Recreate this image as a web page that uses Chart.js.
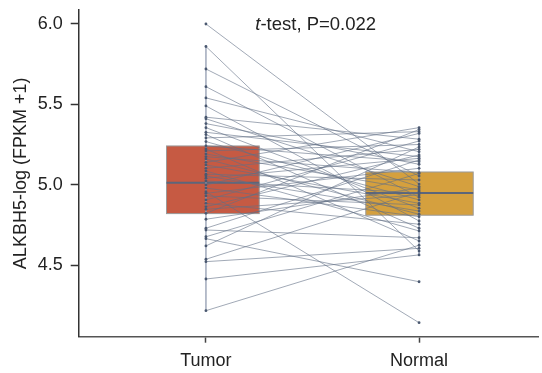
<!DOCTYPE html>
<html>
<head>
<meta charset="utf-8">
<script src="https://cdn.jsdelivr.net/npm/chart.js@4.4.1/dist/chart.umd.min.js"></script>
<style>
  html, body { margin: 0; padding: 0; background: #fff; }
</style>
</head>
<body>
<canvas id="grafico" width="542" height="373"></canvas>
<script>
const grupos = ['Tumor', 'Normal'];

// pares tumor -> normal (mesmo paciente)
const tumor = [6.00, 5.86, 5.72, 5.61, 5.54, 5.49, 5.42, 5.41, 5.38, 5.355, 5.326, 5.312,
  5.291, 5.268, 5.241, 5.222, 5.210, 5.191, 5.174, 5.160, 5.139, 5.123, 5.102, 5.085,
  5.065, 5.054, 5.040, 5.023, 4.998, 4.979, 4.956, 4.946, 4.930, 4.905, 4.884, 4.863,
  4.847, 4.822, 4.785, 4.729, 4.718, 4.676, 4.664, 4.619, 4.536, 4.521, 4.413, 4.216];
const normal = [5.004, 4.587, 5.054, 4.922, 5.205, 4.774, 5.283, 4.988, 5.127, 4.853, 5.174, 4.729,
  5.330, 4.905, 5.143, 4.650, 5.250, 4.967, 5.075, 4.816, 5.355, 4.884, 5.220, 4.712,
  5.029, 4.836, 5.164, 4.948, 5.319, 4.801, 4.141, 5.102, 4.874, 5.272, 4.754, 5.185,
  4.936, 5.343, 4.979, 5.154, 4.670, 5.070, 4.396, 5.235, 4.956, 4.604, 4.563, 4.623];

// q1, mediana, q3
const caixaTumor = [4.820, 5.012, 5.241];
const caixaNormal = [4.810, 4.948, 5.079];
// bigodes (min, max)
const bigodeTumor = [4.216, 5.860];
const bigodeNormal = [4.563, 5.355];

const ticksY = [4.5, 5.0, 5.5, 6.0];
const textoP = '-test, P=0.022';

const fonte = "'Liberation Sans', Arial, sans-serif";

let datasets = [];
for (let i = 0; i < tumor.length; i++) {
  datasets.push({
    type: 'line',
    data: [{ x: 1, y: tumor[i] }, { x: 2, y: normal[i] }],
    borderColor: 'rgba(98,110,132,0.75)',
    borderWidth: 0.8,
    pointRadius: 1.4,
    pointBackgroundColor: '#4a5870',
    pointBorderWidth: 0
  });
}

// caixas + bigodes desenhados antes das linhas
const pluginCaixas = {
  id: 'caixas',
  beforeDatasetsDraw(chart) {
    const ctx = chart.ctx;
    const sx = chart.scales.x;
    const sy = chart.scales.y;
    const caixas = [
      { pos: 1, esq: -0.185, dir: 0.25, q: caixaTumor, b: bigodeTumor, cor: '#c65a43' },
      { pos: 2, esq: -0.25, dir: 0.254, q: caixaNormal, b: bigodeNormal, cor: '#d5a03e' }
    ];
    ctx.save();
    caixas.forEach(function (c) {
      const x0 = sx.getPixelForValue(c.pos + c.esq);
      const x1 = sx.getPixelForValue(c.pos + c.dir);
      const yq1 = sy.getPixelForValue(c.q[0]);
      const ymed = sy.getPixelForValue(c.q[1]);
      const yq3 = sy.getPixelForValue(c.q[2]);
      ctx.fillStyle = c.cor;
      ctx.fillRect(x0, yq3, x1 - x0, yq1 - yq3);
      ctx.strokeStyle = '#9a9a9a';
      ctx.lineWidth = 1;
      ctx.strokeRect(x0, yq3, x1 - x0, yq1 - yq3);
      ctx.strokeStyle = '#5c667a';
      ctx.lineWidth = 2;
      ctx.beginPath();
      ctx.moveTo(x0, ymed);
      ctx.lineTo(x1, ymed);
      ctx.stroke();
      // bigode
      const xc = sx.getPixelForValue(c.pos);
      ctx.strokeStyle = 'rgba(150,160,180,0.85)';
      ctx.lineWidth = 1.6;
      ctx.beginPath();
      ctx.moveTo(xc, sy.getPixelForValue(c.b[0]));
      ctx.lineTo(xc, sy.getPixelForValue(c.b[1]));
      ctx.stroke();
    });
    ctx.restore();
  },
  afterDraw(chart) {
    const ctx = chart.ctx;
    const xc = chart.scales.x.getPixelForValue(1.515);
    const y = chart.chartArea.top + 20;
    ctx.save();
    ctx.fillStyle = '#222';
    ctx.textBaseline = 'alphabetic';
    ctx.font = 'italic 18.5px ' + fonte;
    const wt = ctx.measureText('t').width;
    ctx.font = '18.5px ' + fonte;
    const wr = ctx.measureText(textoP).width;
    const x0 = xc - (wt + wr) / 2;
    ctx.font = 'italic 18.5px ' + fonte;
    ctx.fillText('t', x0, y);
    ctx.font = '18.5px ' + fonte;
    ctx.fillText(textoP, x0 + wt, y);
    ctx.restore();
  }
};

const config = {
  type: 'line',
  data: { datasets: datasets },
  options: {
    responsive: false,
    animation: false,
    devicePixelRatio: 1,
    layout: { padding: { top: 10, right: 0, left: 0, bottom: 0 } },
    plugins: {
      legend: { display: false },
      tooltip: { enabled: false }
    },
    scales: {
      x: {
        type: 'linear',
        min: 0.403,
        max: 2.558,
        afterBuildTicks: function (s) { s.ticks = [{ value: 1 }, { value: 2 }]; },
        afterFit: function (s) { s.height = 36.3; s.paddingLeft = 0; s.paddingRight = 0; },
        ticks: {
          callback: function (v) { return grupos[v - 1]; },
          font: { size: 18, family: fonte },
          color: '#222',
          padding: 8,
          maxRotation: 0
        },
        grid: { drawOnChartArea: false, drawTicks: true, tickLength: 6, color: '#444', tickWidth: 1.5 },
        border: { color: '#555', width: 1.5 }
      },
      y: {
        min: 4.054,
        max: 6.087,
        afterBuildTicks: function (s) { s.ticks = ticksY.map(v => ({ value: v })); },
        afterFit: function (s) { s.width = 78.7; s.paddingTop = 0; s.paddingBottom = 0; },
        ticks: {
          callback: function (v) { return v.toFixed(1); },
          font: { size: 18, family: fonte },
          color: '#222',
          padding: 8
        },
        grid: { drawOnChartArea: false, drawTicks: true, tickLength: 8, color: '#333', tickWidth: 1.5 },
        border: { color: '#333', width: 1.5 },
        title: {
          display: true,
          text: 'ALKBH5-log (FPKM +1)',
          font: { size: 18, family: fonte },
          color: '#222',
          padding: { top: 10, bottom: 0 }
        }
      }
    }
  },
  plugins: [pluginCaixas]
};

let meuGrafico = new Chart(document.getElementById('grafico'), config);
</script>
</body>
</html>
